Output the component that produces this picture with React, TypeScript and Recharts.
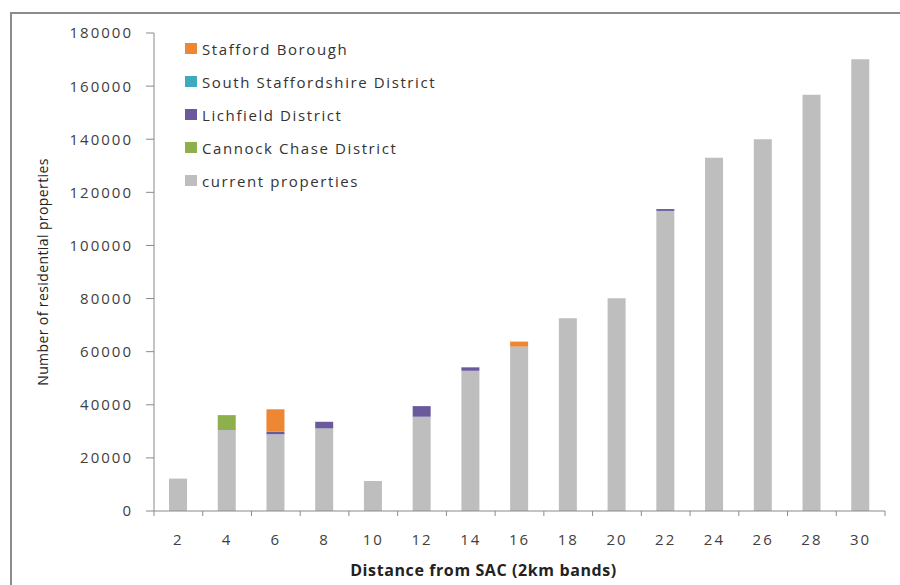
import React from 'react';
import { BarChart, Bar, XAxis, YAxis, Legend, Label } from 'recharts';

const categories = ['2', '4', '6', '8', '10', '12', '14', '16', '18', '20', '22', '24', '26', '28', '30'];
const currentProperties = [12200, 30500, 28900, 31100, 11300, 35500, 52800, 61900, 72600, 80100, 113000, 133000, 140000, 156700, 170100];
const cannockChase = [0, 5600, 0, 0, 0, 0, 0, 0, 0, 0, 0, 0, 0, 0, 0];
const lichfield = [0, 0, 1000, 2500, 0, 4000, 1300, 0, 0, 0, 700, 0, 0, 0, 0];
const southStaffordshire = [0, 0, 0, 0, 0, 0, 0, 0, 0, 0, 0, 0, 0, 0, 0];
const staffordBorough = [0, 0, 8400, 0, 0, 0, 0, 1900, 0, 0, 0, 0, 0, 0, 0];
const yTicks = [0, 20000, 40000, 60000, 80000, 100000, 120000, 140000, 160000, 180000];

const series = [
  { key: 'current', name: 'current properties', color: '#BEBEBE' },
  { key: 'cannock', name: 'Cannock Chase District', color: '#8DB04C' },
  { key: 'lichfield', name: 'Lichfield District', color: '#6A5A9C' },
  { key: 'south', name: 'South Staffordshire District', color: '#3FA9C0' },
  { key: 'stafford', name: 'Stafford Borough', color: '#EE8733' },
];

const data = categories.map((c, i) => ({
  distance: c,
  current: currentProperties[i],
  cannock: cannockChase[i],
  lichfield: lichfield[i],
  south: southStaffordshire[i],
  stafford: staffordBorough[i],
}));

const W = 900;
const H = 585;
const MARGIN = { top: 33, right: 15, left: 0, bottom: 0 };
const Y_W = 154;
const X_H = 74;
const BAND = (W - MARGIN.right - Y_W) / categories.length;
const AXIS = '#8a8a8a';
const FONT = '"Open Sans", "DejaVu Sans", sans-serif';
const X_TICK_SIZE = 6;
const X_TICK_MARGIN = 8;

const XTick = (props: any) => {
  const { x, y, payload, index } = props;
  const axisY = y - X_TICK_SIZE - X_TICK_MARGIN;
  const left = x - BAND / 2;
  const right = x + BAND / 2;
  return (
    <g>
      <line x1={left} x2={left} y1={axisY} y2={axisY + 5} stroke={AXIS} />
      {index === categories.length - 1 && (
        <line x1={right} x2={right} y1={axisY} y2={axisY + 5} stroke={AXIS} />
      )}
      <text x={x} y={axisY + 34} textAnchor="middle" fill="#404040" fontSize={15} letterSpacing={2} fontFamily={FONT}>
        {payload.value}
      </text>
    </g>
  );
};

const YTick = (props: any) => {
  const { x, y, payload } = props;
  return (
    <text x={x} y={y} dy="0.36em" textAnchor="end" fill="#404040" fontSize={15} letterSpacing={2} fontFamily={FONT}>
      {payload.value}
    </text>
  );
};

const LegendContent = () => {
  const items = [...series].reverse();
  return (
    <div style={{ fontFamily: FONT }}>
      {items.map((s) => (
        <div key={s.key} style={{ display: 'flex', alignItems: 'center', height: 33 }}>
          <span style={{ display: 'inline-block', width: 12, height: 11, background: s.color, marginRight: 5 }} />
          <span style={{ fontSize: 15, color: '#333', letterSpacing: 1.6, whiteSpace: 'nowrap' }}>{s.name}</span>
        </div>
      ))}
    </div>
  );
};

export default function App() {
  return (
    <div style={{ position: 'absolute', left: 0, top: 0, width: W, height: H, background: '#fff' }}>
      <div
        style={{
          position: 'absolute',
          left: 10,
          top: 12,
          width: W - 12,
          height: H - 14,
          borderLeft: '2px solid #8c8c8c',
          borderTop: '2px solid #8c8c8c',
        }}
      />
      <div style={{ position: 'absolute', left: 0, top: 0 }}>
        <BarChart width={W} height={H} data={data} margin={MARGIN} barSize={18}>
          <XAxis
            dataKey="distance"
            height={X_H}
            interval={0}
            tickLine={false}
            tickSize={X_TICK_SIZE}
            tickMargin={X_TICK_MARGIN}
            stroke={AXIS}
            tick={<XTick />}
          >
            <Label
              content={(p: any) => {
                const vb = p.viewBox;
                return (
                  <text
                    x={vb.x + vb.width / 2 - 36}
                    y={vb.y + 65}
                    textAnchor="middle"
                    fontWeight="bold"
                    fontSize={16}
                    letterSpacing={0.6}
                    fill="#222"
                    fontFamily={FONT}
                  >
                    Distance from SAC (2km bands)
                  </text>
                );
              }}
            />
          </XAxis>
          <YAxis
            width={Y_W}
            domain={[0, 180000]}
            ticks={yTicks}
            interval={0}
            tickSize={8}
            tickMargin={13}
            stroke={AXIS}
            tick={<YTick />}
          >
            <Label
              content={(p: any) => {
                const vb = p.viewBox;
                const cx = vb.x + 42;
                const cy = vb.y + vb.height / 2;
                return (
                  <text
                    x={cx}
                    y={cy}
                    transform={`rotate(-90, ${cx}, ${cy})`}
                    textAnchor="middle"
                    dominantBaseline="central"
                    fontSize={14}
                    letterSpacing={0.4}
                    fill="#222"
                    fontFamily={FONT}
                  >
                    Number of residential properties
                  </text>
                );
              }}
            />
          </YAxis>
          <Legend
            layout="vertical"
            verticalAlign="middle"
            align="center"
            content={<LegendContent />}
            wrapperStyle={{ left: 185, top: 32, width: 320 }}
          />
          {series.map((s) => (
            <Bar key={s.key} dataKey={s.key} name={s.name} stackId="a" fill={s.color} isAnimationActive={false} />
          ))}
        </BarChart>
      </div>
    </div>
  );
}
